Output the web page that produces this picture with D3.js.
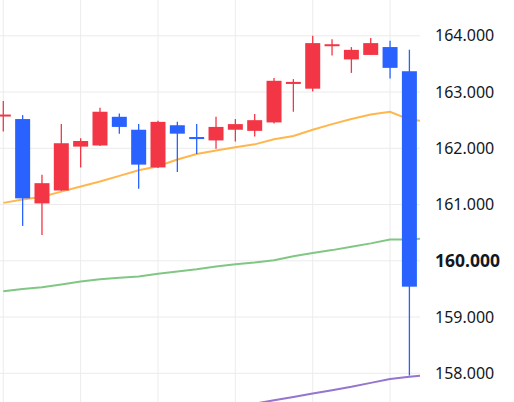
<!DOCTYPE html>
<html>
<head>
<meta charset="utf-8">
<script src="https://cdn.jsdelivr.net/npm/d3@7"></script>
<style>
  body { margin: 0; background: #fff; }
  svg { display: block; }
</style>
</head>
<body>
<div id="container"></div>
<script>
// OHLC, one entry per bar
const opens  = [162.59, 162.52, 161.02, 161.25, 162.03, 162.05, 162.56, 162.33, 161.66, 162.41, 162.20, 162.14,
                162.33, 162.31, 162.46, 163.15, 163.06, 163.82, 163.58, 163.66, 163.80, 163.37];
const highs  = [162.84, 162.59, 161.53, 162.43, 162.18, 162.72, 162.62, 162.43, 162.49, 162.47, 162.43, 162.56,
                162.52, 162.61, 163.25, 163.23, 164.00, 163.94, 163.80, 163.96, 163.91, 163.75];
const lows   = [162.30, 160.62, 160.46, 161.24, 161.66, 162.04, 162.26, 161.28, 161.65, 161.58, 161.90, 161.99,
                162.12, 162.21, 162.44, 162.65, 163.01, 163.65, 163.34, 163.66, 163.24, 157.96];
const closes = [162.60, 161.11, 161.38, 162.09, 162.13, 162.65, 162.38, 161.71, 162.47, 162.26, 162.19, 162.38,
                162.43, 162.50, 163.20, 163.18, 163.87, 163.85, 163.75, 163.87, 163.43, 159.54];

// moving averages (one value more than the bars, the line runs on past the last one)
const maShort = [161.03, 161.09, 161.14, 161.23, 161.32, 161.41, 161.51, 161.61, 161.68, 161.80, 161.90, 161.96,
                 162.02, 162.07, 162.16, 162.22, 162.33, 162.43, 162.52, 162.60, 162.65, 162.51, 162.47];
const maMid   = [159.46, 159.50, 159.53, 159.58, 159.63, 159.67, 159.70, 159.72, 159.77, 159.81, 159.85, 159.90,
                 159.94, 159.97, 160.01, 160.08, 160.14, 160.19, 160.25, 160.31, 160.38, 160.38, 160.40];
const maLong  = [156.68, 156.74, 156.80, 156.86, 156.92, 156.98, 157.04, 157.10, 157.16, 157.22, 157.28, 157.34,
                 157.40, 157.46, 157.52, 157.58, 157.64, 157.70, 157.76, 157.83, 157.90, 157.94, 157.97];

const priceTicks = [158, 159, 160, 161, 162, 163, 164];
const boldTick = 160;

const width = 514;
const height = 402;
const plotRight = 420;

const upColor = "#f23645";
const downColor = "#2962ff";

const svg = d3.select("#container")
              .append("svg")
              .attr("width", width)
              .attr("height", height);

const xScale = d3.scaleLinear()
                 .domain([0, opens.length - 1])
                 .range([3.3, 409.4]);
const yScale = d3.scaleLinear()
                 .domain([158, 164])
                 .range([373.3, 35.8]);
const bodyWidth = 15;

svg.append("clipPath")
   .attr("id", "plot-clip")
   .append("rect")
   .attr("x", 0)
   .attr("y", 0)
   .attr("width", plotRight)
   .attr("height", height);

const plot = svg.append("g").attr("clip-path", "url(#plot-clip)");

// grid
plot.selectAll("line.hgrid")
    .data(priceTicks)
    .enter()
    .append("line")
    .attr("class", "hgrid")
    .attr("x1", 0)
    .attr("x2", plotRight)
    .attr("y1", (d) => yScale(d))
    .attr("y2", (d) => yScale(d))
    .attr("stroke", "#ececec")
    .attr("stroke-width", 1);

plot.selectAll("line.vgrid")
    .data(d3.range(0, opens.length, 4))
    .enter()
    .append("line")
    .attr("class", "vgrid")
    .attr("x1", (d) => xScale(d))
    .attr("x2", (d) => xScale(d))
    .attr("y1", 0)
    .attr("y2", height)
    .attr("stroke", "#ececec")
    .attr("stroke-width", 1);

// moving averages
const maLine = d3.line()
                 .x((d, i) => xScale(i))
                 .y((d) => yScale(d));

[[maLong, "#9575cd"], [maMid, "#81c784"], [maShort, "#ffb74d"]].forEach((s) => {
  plot.append("path")
      .datum(s[0])
      .attr("d", maLine)
      .attr("fill", "none")
      .attr("stroke", s[1])
      .attr("stroke-width", 2);
});

// candles
const bars = d3.range(opens.length).map((i) => ({
  i: i, o: opens[i], h: highs[i], l: lows[i], c: closes[i]
}));

const candle = plot.selectAll("g.candle")
                   .data(bars)
                   .enter()
                   .append("g")
                   .attr("class", "candle");

candle.append("line")
      .attr("x1", (d) => xScale(d.i))
      .attr("x2", (d) => xScale(d.i))
      .attr("y1", (d) => yScale(d.h))
      .attr("y2", (d) => yScale(d.l))
      .attr("stroke", (d) => d.c >= d.o ? upColor : downColor)
      .attr("stroke-width", 1.3);

candle.append("rect")
      .attr("x", (d) => xScale(d.i) - bodyWidth / 2)
      .attr("y", (d) => yScale(Math.max(d.o, d.c)))
      .attr("width", bodyWidth)
      .attr("height", (d) => Math.max(2, Math.abs(yScale(d.o) - yScale(d.c))))
      .attr("fill", (d) => d.c >= d.o ? upColor : downColor);

// price axis on the right, labels only
const yAxis = d3.axisRight(yScale)
                .tickValues(priceTicks)
                .tickSize(0)
                .tickPadding(15)
                .tickFormat(d3.format(".3f"));

const axisG = svg.append("g")
                 .attr("id", "y-axis")
                 .attr("transform", "translate(" + plotRight + ",0)")
                 .call(yAxis);

axisG.select(".domain").remove();
axisG.selectAll("text")
     .attr("font-family", "'Noto Sans', sans-serif")
     .attr("font-size", (d) => d === boldTick ? 17.5 : 16)
     .attr("fill", "#131722")
     .attr("font-weight", (d) => d === boldTick ? "bold" : "normal");
</script>
</body>
</html>
